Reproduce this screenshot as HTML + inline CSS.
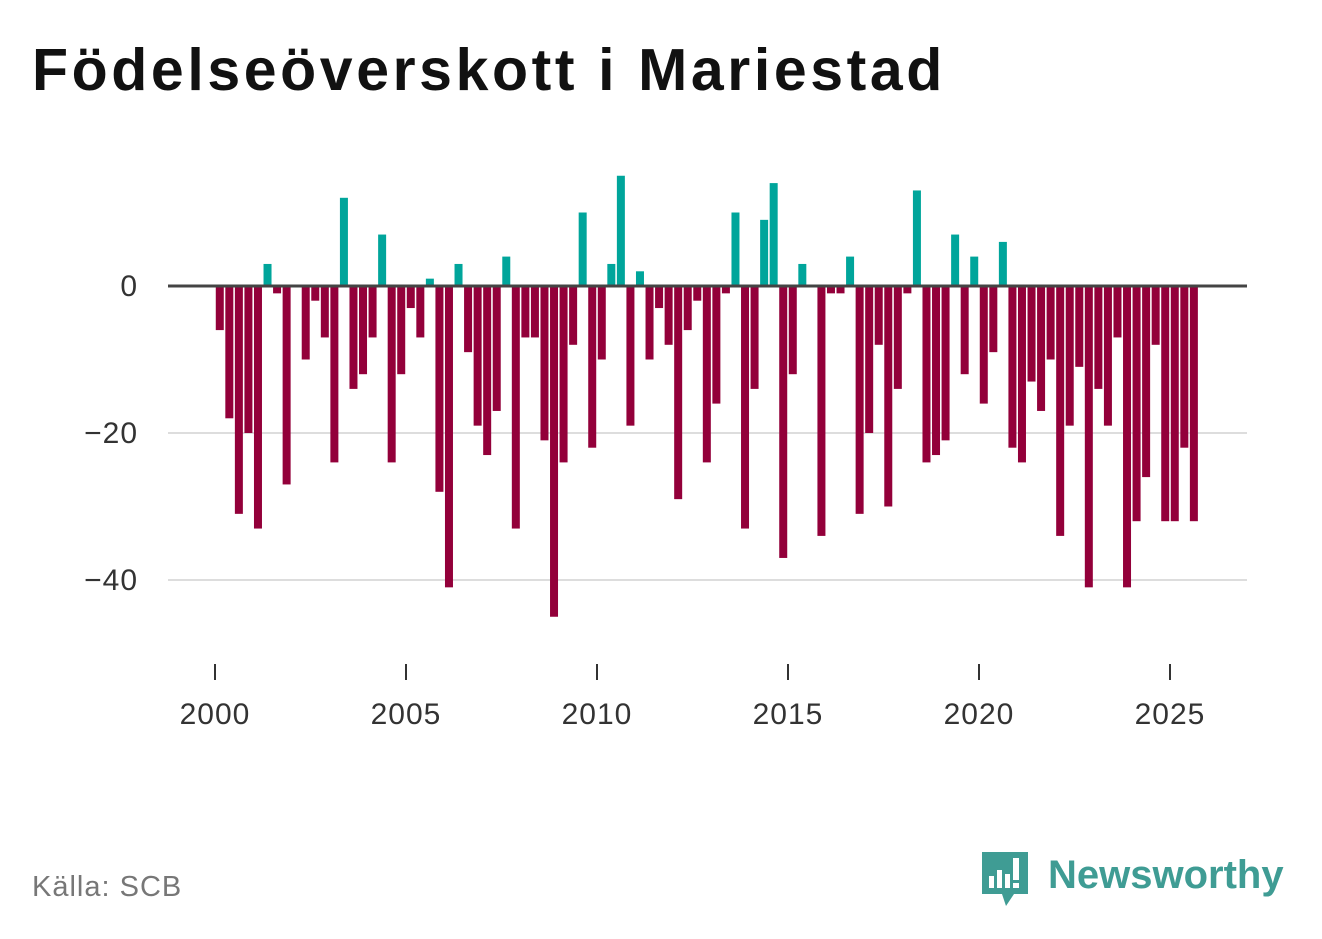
<!DOCTYPE html>
<html><head><meta charset="utf-8">
<style>
body{margin:0;background:#fff;width:1322px;height:939px;overflow:hidden;font-family:"Liberation Sans","DejaVu Sans",sans-serif;}
#title{position:absolute;left:32px;top:36px;font-size:59px;font-weight:bold;color:#111;margin:0;letter-spacing:3.6px}
#src{position:absolute;left:32px;top:871px;font-size:29px;color:#777;letter-spacing:1px}
#logo{position:absolute;left:980px;top:850px}
</style></head><body>
<h1 id="title">Födelseöverskott i Mariestad</h1>
<svg id="chart" width="1322" height="939" style="position:absolute;left:0;top:0"></svg>
<div id="src">Källa: SCB</div>
<svg id="logo" width="320" height="70">
<path d="M2 2 H48 V44 H34 L26 56 L22 44 H2 Z" fill="#3f9c94"/>
<rect x="9" y="26" width="5" height="12" fill="#fff"/><rect x="17" y="20" width="5" height="18" fill="#fff"/><rect x="25" y="24" width="5" height="14" fill="#fff"/><rect x="33" y="8" width="6" height="22" fill="#fff"/><rect x="33" y="33" width="6" height="5" fill="#fff"/>
<text x="68" y="38" font-family="Liberation Sans, sans-serif" font-size="40" font-weight="bold" fill="#3f9c94">Newsworthy</text>
</svg>
<script>
const values=[-6,-18,-31,-20,-33,3,-1,-27,0,-10,-2,-7,-24,12,-14,-12,-7,7,-24,-12,-3,-7,1,-28,-41,3,-9,-19,-23,-17,4,-33,-7,-7,-21,-45,-24,-8,10,-22,-10,3,15,-19,2,-10,-3,-8,-29,-6,-2,-24,-16,-1,10,-33,-14,9,14,-37,-12,3,0,-34,-1,-1,4,-31,-20,-8,-30,-14,-1,13,-24,-23,-21,7,-12,4,-16,-9,6,-22,-24,-13,-17,-10,-34,-19,-11,-41,-14,-19,-7,-41,-32,-26,-8,-32,-32,-22,-32];
const startYear=2000;
const yTicks=[0,-20,-40];
const yTickLabels=["0","\u221220","\u221240"];
const xTicks=[2000,2005,2010,2015,2020,2025];
const svg=document.getElementById('chart');
const NS='http://www.w3.org/2000/svg';
const xs=t=>215+(t-2000)*38.2;
const ys=v=>286-v*7.35;
function mk(tag,attrs){const e=document.createElementNS(NS,tag);for(const k in attrs)e.setAttribute(k,attrs[k]);svg.appendChild(e);return e;}
yTicks.forEach((t,i)=>{
  if(t!==0){const g=mk('line',{x1:168,x2:1247,y1:ys(t),y2:ys(t),stroke:'#ddd','stroke-width':2});
  
  }
  const l=mk('text',{x:138,y:ys(t)+10,'text-anchor':'end','font-size':30,fill:'#333','font-family':'Liberation Sans, sans-serif','letter-spacing':1});
  l.textContent=yTickLabels[i];
  
  
});
values.forEach((v,i)=>{
  const c=xs(startYear+i*0.25+0.125);
  const y0=ys(0),y1=ys(v);
  const r=mk('rect',{x:c-4,y:Math.min(y0,y1),width:8,height:Math.abs(y1-y0),fill:v>=0?'#00a59b':'#93003a'});
  
  
});
const z=mk('line',{x1:168,x2:1247,y1:ys(0),y2:ys(0),stroke:'#444','stroke-width':3});


xTicks.forEach(t=>{
  const tk=mk('line',{x1:xs(t),x2:xs(t),y1:664,y2:680,stroke:'#333','stroke-width':2});
  
  
  const l=mk('text',{x:xs(t),y:724,'text-anchor':'middle','font-size':30,fill:'#333','font-family':'Liberation Sans, sans-serif','letter-spacing':1});
  l.textContent=t;
  
  
});
</script>
</body></html>
